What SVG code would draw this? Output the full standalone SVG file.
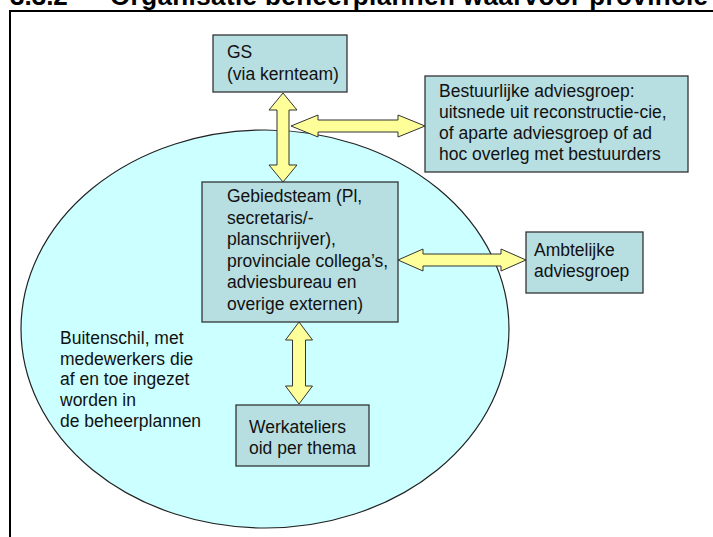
<svg xmlns="http://www.w3.org/2000/svg" width="713" height="537" viewBox="0 0 713 537">
<style>
.t{font-family:"Liberation Sans",Arial,sans-serif;font-size:17.5px;fill:#111}
.box{fill:#B7DEE1;stroke:#333;stroke-width:1.3}
.arr{fill:#FFFF99;stroke:#333;stroke-width:1}
.title{font-family:"Liberation Sans",Arial,sans-serif;font-size:26px;font-weight:bold;fill:#000}
</style>
<rect width="713" height="537" fill="#fff"/>
<text class="title" y="4.5"><tspan x="10">3.3.2</tspan><tspan x="110" letter-spacing="0.4">Organisatie beheerplannen waarvoor provincie</tspan></text>
<path d="M10,540 V11 H720" fill="none" stroke="#000" stroke-width="2"/>
<g id="buitenschil">
<ellipse cx="265" cy="329" rx="244" ry="199" fill="#CCFFFF" stroke="#222" stroke-width="1.2"/>
<text class="t"><tspan x="60" y="344">Buitenschil, met</tspan><tspan x="60" y="364.7">medewerkers die</tspan><tspan x="60" y="385.4">af en toe ingezet</tspan><tspan x="60" y="406.1">worden in</tspan><tspan x="60" y="426.8">de beheerplannen</tspan></text>
</g>
<g id="connectors">
<polygon class="arr" points="283,93 297,110 289,110 289,165 297,165 283,182 269,165 277,165 277,110 269,110"/>
<polygon class="arr" points="291,126 318,115 318,120 398,120 398,115 425,126 398,137 398,132 318,132 318,137"/>
<polygon class="arr" points="398,260 423,249 423,254 501,254 501,249 526,260 501,271 501,266 423,266 423,271"/>
<polygon class="arr" points="299,322 312.5,340 305.5,340 305.5,386 312.5,386 299,404 285.5,386 292.5,386 292.5,340 285.5,340"/>
</g>
<g id="gs">
<rect class="box" x="213" y="35" width="134" height="57"/>
<text class="t"><tspan x="227" y="58">GS</tspan><tspan x="227" y="80">(via kernteam)</tspan></text>
</g>
<g id="bestuurlijke">
<rect class="box" x="425" y="76" width="263" height="96"/>
<text class="t"><tspan x="439" y="97">Bestuurlijke adviesgroep:</tspan><tspan x="439" y="118">uitsnede uit reconstructie-cie,</tspan><tspan x="439" y="139">of aparte adviesgroep of ad</tspan><tspan x="439" y="160">hoc overleg met bestuurders</tspan></text>
</g>
<g id="gebiedsteam">
<rect class="box" x="202" y="182" width="196" height="140"/>
<text class="t"><tspan x="227" y="202">Gebiedsteam (Pl,</tspan><tspan x="227" y="223.5">secretaris/-</tspan><tspan x="227" y="245">planschrijver),</tspan><tspan x="227" y="266.5">provinciale collega’s,</tspan><tspan x="227" y="288">adviesbureau en</tspan><tspan x="227" y="309.5">overige externen)</tspan></text>
</g>
<g id="ambtelijke">
<rect class="box" x="526" y="232" width="117" height="61"/>
<text class="t"><tspan x="534" y="256">Ambtelijke</tspan><tspan x="534" y="277">adviesgroep</tspan></text>
</g>
<g id="werkateliers">
<rect class="box" x="236" y="405" width="133" height="61"/>
<text class="t"><tspan x="249" y="433">Werkateliers</tspan><tspan x="249" y="454">oid per thema</tspan></text>
</g>
</svg>
